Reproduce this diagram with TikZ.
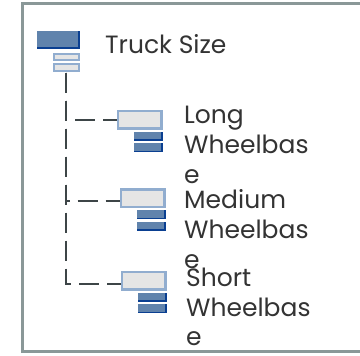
\documentclass[tikz,border=0pt]{standalone}
\usepackage{fontspec}
\setmainfont{Poppins}
\usepackage{tikz}
\usetikzlibrary{positioning}

\definecolor{steel}{HTML}{6083AC}
\definecolor{navy}{HTML}{0A3F91}
\definecolor{paleblue}{HTML}{91ADCF}
\definecolor{boxgray}{HTML}{E5E5E5}
\definecolor{linkgray}{HTML}{3D4547}
\definecolor{framegray}{HTML}{8A9898}
\definecolor{textgray}{HTML}{333333}

\begin{document}
\begin{tikzpicture}[
    x=1pt, y=-1pt,
    darkbar/.style={inner sep=0pt, outer sep=0pt, fill=navy,
        path picture={\fill[steel] (path picture bounding box.north west)
            rectangle ([xshift=-1.5pt,yshift=1.5pt]path picture bounding box.south east);}},
    palebar/.style={draw=paleblue, line width=2pt, fill=boxgray, inner sep=0pt, outer sep=0pt,
        minimum width=25pt, minimum height=6.4pt},
    itembox/.style={draw=paleblue, line width=2.5pt, fill=boxgray, inner sep=0pt, outer sep=0pt,
        minimum width=43.5pt, minimum height=17.5pt},
    itembar/.style={darkbar, minimum width=29pt, minimum height=9pt},
    label/.style={anchor=base west, inner sep=0pt, align=left, text=textgray,
        font=\fontsize{25}{30}\selectfont},
    link/.style={draw=linkgray, line width=2pt, dash pattern=on 20pt off 8pt}
]
\useasboundingbox (0,0) rectangle (360,356);

% frame
\draw[framegray, line width=3pt] (370,3.5) -- (22.5,3.5) -- (22.5,351.5) -- (370,351.5);

% root
\node (root) [darkbar, minimum width=43pt, minimum height=18pt] at (58.5,40) {};
\node (rootsub1) [palebar] at (66.5,57) {};
\node (rootsub2) [palebar] at (66.5,67.5) {};
\node (rootlbl) [label] at (105,53.3) {Truck Size};

% items (label base = last line)
\coordinate (stem) at ([yshift=-2pt]rootsub2.south);
\draw[link] (stem) |- (140,120);
\draw[link] (stem) |- (143,201.5);
\draw[link] (stem) |- (144,284);

\node (longbox) [itembox] at (140,120) {};
\node (longbar1) [itembar, below left=3pt and -1.25pt of longbox.south east] {};
\node (longbar2) [itembar, below=2.5pt of longbar1] {};
\node (longlbl) [label] at (184,183.3) {Long\\Wheelbas\\e};

\node (medbox) [itembox] at (143,198.5) {};
\node (medbar1) [itembar, below left=3pt and -1.25pt of medbox.south east] {};
\node (medbar2) [itembar, below=2.5pt of medbar1] {};
\node (medlbl) [label] at (184,268.3) {Medium\\Wheelbas\\e};

\node (shortbox) [itembox] at (144,281) {};
\node (shortbar1) [itembar, below left=3pt and -1.25pt of shortbox.south east] {};
\node (shortbar2) [itembar, below=2.5pt of shortbar1] {};
\node (shortlbl) [label] at (186,346) {Short\\Wheelbas\\e};

\end{tikzpicture}
\end{document}
